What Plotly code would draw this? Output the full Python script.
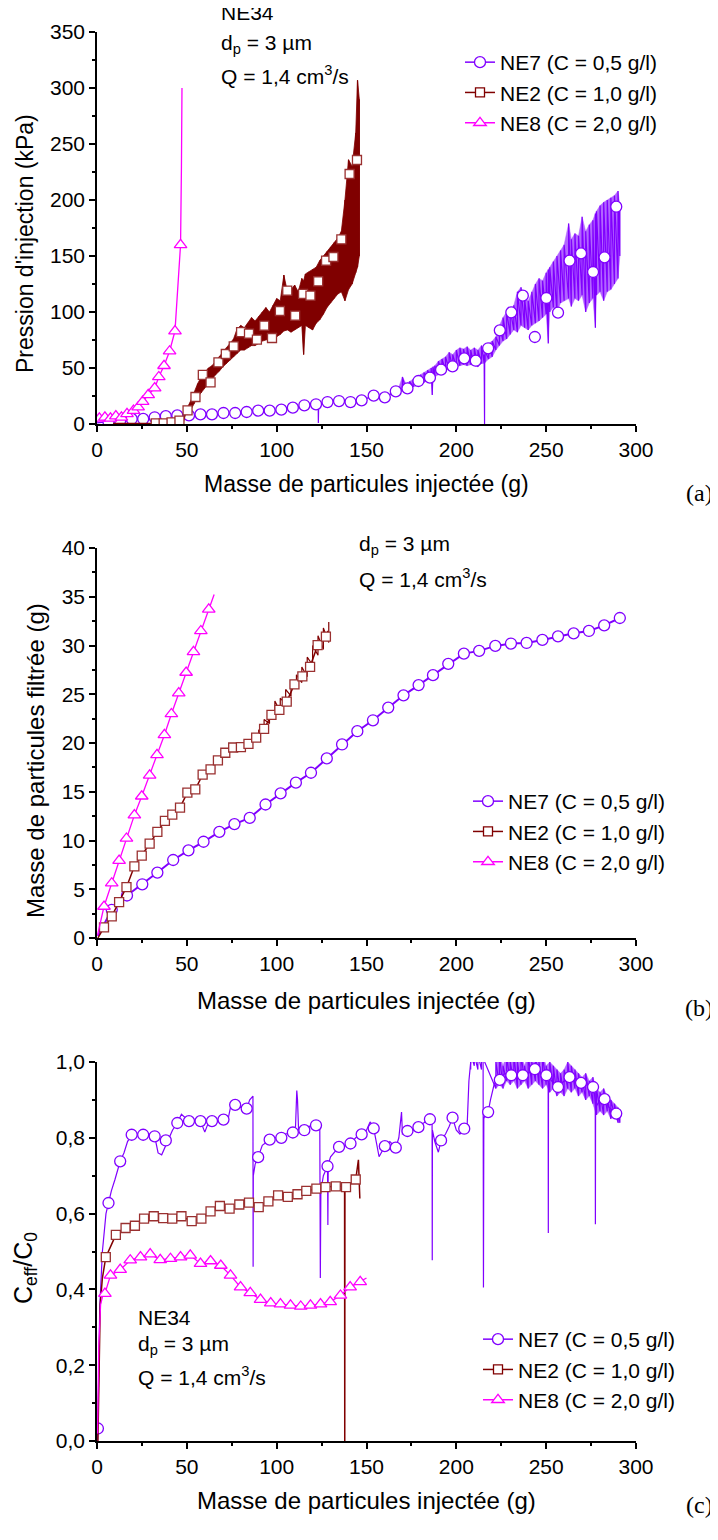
import plotly.graph_objects as go

# ---------------- colours ----------------
C7 = "#8000FF"
C2 = "#800000"
C2M = "#9A3030"
C8 = "#FF00FF"

# ================= Panel (a): pressure =================
a_ne7_x = [0, 6.4, 12.9, 19.3, 25.7, 32.1, 38.3, 44.7, 51.2, 57.6, 64.0, 70.4, 76.9, 83.3,
           89.7, 96.1, 102.6, 109.0, 115.4, 121.9, 123.1, 123.2, 123.4, 128.3, 134.7, 141.1,
           147.3, 154.0, 160.2, 166.3]
a_ne7_y = [1, 2, 3, 4.5, 4.5, 6, 7, 7.7, 7.7, 8.6, 8.6, 9.8, 9.8, 10.7,
           11.9, 11.9, 12.8, 14.6, 16.7, 17.6, 18.5, 0.8, 18.5, 19.6, 20.5, 19.6,
           21.1, 25.3, 23.8, 29.2]
a_ne7_bx = [166, 168, 170, 172, 174, 176, 178, 180, 182, 184, 186, 186.6, 187, 188, 190, 192, 194,
            196, 198, 200, 202, 204, 206, 208, 210, 212, 214, 215.5, 215.7, 216, 218, 220, 222,
            224, 226, 228, 230, 232, 234, 236, 238, 240, 242, 244, 246, 248, 250, 251.2, 252,
            254, 256, 258, 260, 262.5, 264, 266, 268, 270, 272, 274, 276, 277.4, 278, 280,
            282, 284, 286, 288, 290, 291]
a_ne7_lo = [26, 28, 30, 30, 31, 33, 34, 36, 37, 39, 40, 26, 41, 42, 44, 46, 48,
            49, 50, 51, 52, 53, 52, 53, 52, 51, 54, 54, 0, 55, 58, 60, 66,
            70, 74, 76, 80, 84, 82, 88, 86, 84, 88, 90, 92, 95, 98, 72, 100,
            104, 100, 108, 110, 112, 105, 112, 110, 115, 100, 108, 112, 86, 115, 118,
            110, 118, 120, 125, 130, 150]
a_ne7_hi = [30, 33, 42, 36, 38, 40, 42, 44, 46, 48, 50, 50, 51, 52, 56, 58, 60,
            64, 62, 66, 68, 67, 69, 66, 68, 66, 70, 62, 62, 65, 72, 74, 78,
            88, 95, 100, 102, 106, 118, 122, 112, 110, 118, 125, 130, 128, 135, 138, 140,
            145, 150, 155, 160, 179, 165, 170, 168, 185, 172, 178, 182, 188, 190, 195,
            198, 200, 202, 204, 208, 195]
a_ne7_mx = [6.4, 12.9, 19.3, 25.7, 32.1, 38.3, 44.7, 51.2, 57.6, 64.0, 70.4, 76.9, 83.3, 89.7,
            96.1, 102.6, 109.0, 115.4, 121.9, 128.3, 134.7, 141.1, 147.3, 154.0, 160.2, 166.3,
            172.8, 178.9, 185.3, 191.5, 197.9, 204.4, 210.8, 217.7, 224.2, 230.6, 237.0, 243.7,
            250.1, 256.6, 263.0, 269.4, 276.1, 282.5, 289.0]
a_ne7_my = [2, 3, 4.5, 4.5, 6, 7, 7.7, 7.7, 8.6, 8.6, 9.8, 9.8, 10.7, 11.9,
            11.9, 12.8, 14.6, 16.7, 17.6, 19.6, 20.5, 19.6, 21.1, 25.3, 23.8, 29.2,
            31.8, 38.4, 41.4, 48.5, 51.5, 58.6, 56.5, 67.6, 83.6, 99.7, 114.6, 77.7,
            112.5, 99.4, 145.8, 152.4, 135.7, 148.8, 194.0]

a_ne2_x = [9, 38.8, 39, 48, 49, 50]
a_ne2_y = [0.5, 0.5, 2, 2, 8, 12]
a_ne2_bx = [50, 52, 54, 56, 58, 60, 62, 64, 66, 68, 70, 72, 74, 76, 78, 80, 82, 84, 86, 88,
            90, 92, 94, 96, 98, 100, 102, 104, 106, 108, 110, 112, 114, 115, 116, 118, 120,
            122, 124, 126, 128, 130, 132, 134, 136, 138, 140, 142, 144, 145, 146]
a_ne2_lo = [8, 12, 18, 24, 28, 33, 36, 40, 44, 47, 51, 54, 57, 60, 63, 66, 66, 68, 70, 70,
            72, 74, 75, 76, 77, 78, 80, 83, 84, 82, 84, 86, 88, 62, 88, 86, 84,
            90, 93, 98, 104, 108, 112, 116, 118, 110, 120, 125, 135, 140, 150]
a_ne2_hi = [14, 20, 28, 36, 42, 46, 50, 52, 56, 60, 64, 68, 72, 76, 85, 88, 86, 90, 95, 92,
            96, 100, 104, 100, 106, 112, 110, 133, 118, 120, 124, 118, 130, 128, 134, 136, 138,
            140, 146, 150, 154, 158, 162, 166, 172, 200, 236, 230, 260, 307, 290]
a_ne2_mx = [32.7, 37.1, 41.5, 45.9, 50.4, 54.8, 58.9, 63.2, 67.6, 71.7, 76.1, 80.2, 84.6, 89.0,
            93.1, 97.4, 101.8, 105.9, 110.3, 114.7, 118.8, 123.1, 127.5, 131.6, 136.0, 140.6, 144.7]
a_ne2_my = [0.5, 0.5, 1.5, 3, 12.2, 24.1, 43.8, 37.2, 55.1, 62.5, 69.3, 82.1, 80.7, 75.3,
            87.8, 76.8, 100.9, 119.0, 96.7, 116.1, 114.6, 127.4, 145.8, 149.1, 164.9, 223.2, 235.7]

a_ne8_x = [0, 1.3, 4.4, 7.5, 10.5, 13.6, 16.7, 20.3, 22.9, 25.4, 28.5, 32.1, 34.4, 37.3,
           40.4, 43.4, 46.5, 47.0, 47.3]
a_ne8_y = [2, 5, 6, 5, 7, 6, 9, 12, 15, 20, 26, 32, 42, 52, 65, 83, 160, 230, 300]

# ================= Panel (b): filtered mass =================
b_ne7_x = [0.5, 8.2, 16.7, 25.2, 33.6, 42.4, 50.9, 59.3, 68.1, 76.5, 85.0, 93.8, 102.2, 110.7,
           119.1, 127.9, 136.4, 144.9, 153.6, 162.1, 170.6, 179.0, 187.0, 195.5, 204.2, 212.7,
           221.7, 230.4, 239.1, 247.9, 256.6, 265.3, 273.8, 282.3, 291.0]
b_ne7_y = [0.2, 2.89, 4.36, 5.51, 6.71, 8.0, 8.99, 9.87, 10.89, 11.68, 12.32, 13.69, 14.84, 15.93,
           16.95, 18.42, 19.85, 21.21, 22.33, 23.63, 24.89, 25.94, 26.96, 28.12, 29.17, 29.45,
           29.96, 30.20, 30.26, 30.57, 30.94, 31.25, 31.49, 32.07, 32.82]
b_ne2_x = [0.5, 3.9, 8.2, 12.3, 16.4, 20.8, 24.9, 29.3, 33.6, 37.8, 41.9, 46.2, 50.3, 54.7,
           58.8, 63.2, 67.3, 71.4, 75.8, 80.1, 84.3, 88.6, 93.0, 97.1, 101.5, 105.6, 109.9,
           114.3, 118.6, 122.8, 127.4, 128.5]
b_ne2_y = [0.0, 1.09, 2.21, 3.68, 5.21, 7.35, 8.44, 9.67, 10.89, 12.02, 12.66, 13.38, 14.91, 15.25,
           16.75, 17.29, 18.21, 19.0, 19.54, 19.57, 19.91, 20.56, 21.45, 22.88, 23.39, 24.24, 26.01,
           26.83, 27.81, 30.03, 30.91, 31.5]
b_ne2_bx = [90, 93, 96, 99, 102, 105, 108, 111, 114, 117, 120, 123, 126, 129]
b_ne2_lo = [20.5, 21.2, 22.0, 22.9, 23.2, 24.0, 24.8, 25.6, 26.2, 26.8, 28.0, 29.0, 29.6, 30.3]
b_ne2_hi = [21.3, 22.4, 23.0, 24.3, 24.6, 25.5, 26.4, 27.0, 27.8, 28.8, 30.0, 31.0, 31.8, 32.4]
b_ne8_x = [0.3, 3.9, 8.2, 12.3, 16.4, 20.8, 24.9, 29.3, 33.4, 37.5, 41.4, 45.5, 49.6, 53.7,
           57.8, 62.2, 65.2]
b_ne8_y = [0.3, 3.23, 5.62, 7.93, 10.21, 12.60, 14.54, 16.68, 18.79, 20.83, 22.98, 25.12,
           27.23, 29.34, 31.49, 33.70, 35.23]

# ================= Panel (c): Ceff/C0 =================
c_ne7_x = [0.3, 0.5, 1.5, 3, 5, 6.4, 8, 10, 12.9, 15, 17, 19.3, 22, 25.7, 29, 32.1, 34, 36, 38.3,
           40, 42, 44.7, 47, 51.2, 54, 57.6, 60, 62, 64.0, 67, 70.4, 73, 74.5, 76.9, 80, 83.3,
           85, 86.8, 86.9, 87.0, 88, 89.7, 92, 96.1, 99, 102.6, 105, 109.0, 110.5, 111.2, 111.6,
           112.2, 113, 115.4, 118, 121.9, 124.0, 124.3, 124.6, 126, 128.3, 128.5, 128.7, 130,
           132, 134.7, 138, 141.1, 144, 147.3, 150, 152, 154.0, 155, 157, 160.2, 163, 166.3,
           168, 169.5, 170, 172.8, 176, 178.9, 182, 185.3, 186.5, 186.6, 186.7, 188, 190,
           191.5, 194, 196, 197.9, 200, 202, 204.4, 206, 207, 208, 210, 212, 214.9, 215.1,
           215.3, 216, 217.7, 219, 221, 222, 224.2, 227, 230.6, 234, 237, 240, 243.7, 247,
           250.1, 251.1, 251.2, 251.3, 253, 256.6, 260, 263.0, 266, 269.4, 273, 276.1, 277.3,
           277.4, 277.5, 280, 282.5, 285, 289.0, 291]
c_ne7_y = [0.0, 0.03, 0.35, 0.5, 0.6, 0.628, 0.66, 0.69, 0.738, 0.76, 0.79, 0.808, 0.81, 0.808,
           0.81, 0.804, 0.76, 0.755, 0.78, 0.80, 0.82, 0.839, 0.862, 0.844, 0.845, 0.844, 0.815,
           0.84, 0.844, 0.845, 0.848, 0.85, 0.885, 0.887, 0.88, 0.877, 0.9, 0.91, 0.46, 0.70,
           0.73, 0.749, 0.78, 0.795, 0.80, 0.80, 0.81, 0.814, 0.83, 0.925, 0.90, 0.82, 0.82,
           0.82, 0.83, 0.833, 0.83, 0.43, 0.66, 0.70, 0.725, 0.57, 0.73, 0.75, 0.76, 0.776,
           0.78, 0.785, 0.80, 0.809, 0.82, 0.842, 0.825, 0.80, 0.75, 0.778, 0.79, 0.774, 0.80,
           0.868, 0.81, 0.818, 0.82, 0.828, 0.84, 0.849, 0.84, 0.477, 0.82, 0.79, 0.762, 0.793,
           0.81, 0.83, 0.853, 0.82, 0.81, 0.824, 0.83, 0.95, 1.0, 1.02, 1.01, 1.0, 0.405, 0.85,
           0.86, 0.868, 0.90, 0.94, 0.95, 0.953, 0.97, 0.965, 0.96, 0.965, 0.97, 0.981, 0.97,
           0.965, 0.96, 0.549, 0.96, 0.95, 0.934, 0.95, 0.96, 0.95, 0.945, 0.94, 0.934, 0.93,
           0.572, 0.88, 0.90, 0.902, 0.88, 0.864, 0.86]
c_ne7_bx = [208, 210, 212, 214, 222, 224, 226, 228, 230, 232, 234, 236, 238, 240, 242, 244, 246,
            248, 250, 252, 254, 256, 258, 260, 262, 264, 266, 268, 270, 272, 274, 276, 278, 280,
            282, 284, 286, 288, 290, 291]
c_ne7_lo = [0.98, 0.99, 0.98, 0.98, 0.93, 0.94, 0.93, 0.95, 0.94, 0.95, 0.93, 0.94, 0.95, 0.93,
            0.94, 0.95, 0.94, 0.93, 0.94, 0.92, 0.93, 0.91, 0.92, 0.91, 0.93, 0.92, 0.93, 0.91,
            0.92, 0.90, 0.91, 0.89, 0.86, 0.87, 0.86, 0.87, 0.85, 0.86, 0.84, 0.84]
c_ne7_hi = [1.02, 1.02, 1.02, 1.02, 1.0, 1.02, 0.99, 1.02, 1.0, 1.02, 1.0, 1.02, 0.99, 1.02,
            1.0, 1.02, 1.0, 1.02, 0.99, 1.0, 0.99, 0.98, 0.97, 0.98, 1.0, 0.99, 0.98, 0.97,
            0.96, 0.97, 0.95, 0.96, 0.93, 0.92, 0.93, 0.91, 0.90, 0.89, 0.88, 0.87]
c_ne7_mx = [0.5, 6.4, 12.9, 19.3, 25.7, 32.1, 38.3, 44.7, 51.2, 57.6, 64.0, 70.4, 76.9, 83.3,
            89.7, 96.1, 102.6, 109.0, 115.4, 121.9, 128.3, 134.7, 141.1, 147.3, 154.0, 160.2,
            166.3, 172.8, 178.9, 185.3, 191.5, 197.9, 204.4, 217.7, 224.2, 230.6, 237.0, 243.7,
            250.1, 256.6, 263.0, 269.4, 276.1, 282.5, 289.0]
c_ne7_my = [0.033, 0.628, 0.738, 0.808, 0.808, 0.804, 0.793, 0.839, 0.844, 0.844, 0.844, 0.848,
            0.887, 0.877, 0.749, 0.795, 0.800, 0.814, 0.820, 0.833, 0.725, 0.776, 0.785, 0.809,
            0.825, 0.778, 0.774, 0.818, 0.828, 0.849, 0.793, 0.853, 0.824, 0.868, 0.953, 0.965,
            0.965, 0.981, 0.965, 0.934, 0.960, 0.945, 0.934, 0.902, 0.864]

c_ne2_x = [0.5, 1.2, 1.8, 3.0, 4.9, 10.5, 15.9, 21.1, 26.2, 31.6, 36.8, 41.9, 47.0, 52.7, 58.1,
           63.2, 68.4, 73.8, 79.2, 84.6, 90.0, 95.4, 100.8, 106.2, 111.6, 116.5, 122.1, 127.2,
           132.9, 137.8, 137.9, 138.0, 138.6, 141.0, 144.0, 145.5, 146.3]
c_ne2_y = [0.0, 0.2, 0.36, 0.43, 0.485, 0.544, 0.562, 0.568, 0.587, 0.593, 0.588, 0.587, 0.593,
           0.580, 0.587, 0.606, 0.620, 0.613, 0.624, 0.629, 0.617, 0.632, 0.648, 0.644, 0.651,
           0.660, 0.666, 0.670, 0.672, 0.672, 0.0, 0.672, 0.670, 0.68, 0.690, 0.742, 0.64]
c_ne2_mx = c_ne2_x[4:29] + [138.6, 144.0]
c_ne2_my = c_ne2_y[4:29] + [0.670, 0.690]

c_ne8_x = [0.3, 1.0, 2.0, 3.0, 4.4, 7.5, 12.9, 18.5, 24.2, 29.6, 35.2, 40.9, 46.5, 51.9, 57.6,
           63.2, 68.9, 74.3, 79.9, 85.3, 91.0, 96.7, 102.1, 107.7, 113.4, 118.8, 124.4, 129.8,
           135.5, 140.9, 146.5, 150.0]
c_ne8_y = [0.02, 0.25, 0.36, 0.38, 0.389, 0.437, 0.452, 0.477, 0.485, 0.493, 0.478, 0.481,
           0.485, 0.490, 0.468, 0.475, 0.463, 0.437, 0.406, 0.391, 0.373, 0.364, 0.361, 0.358,
           0.355, 0.358, 0.361, 0.367, 0.384, 0.406, 0.420, 0.43]

legend_names = ["NE7 (C = 0,5 g/l)", "NE2 (C = 1,0 g/l)", "NE8 (C = 2,0 g/l)"]

# ---------------- figure geometry ----------------
# The page body has an 8 px margin, so the figure is 8 px smaller and every
# reference pixel position is shifted by OFF.
OFF = 8
W, H = 718 - OFF, 1540 - OFF
L, R = 97 - OFF, 82
PW = W - L - R


def px(xp):
    return (xp - OFF - L) / PW


def py(yp):
    return (H - (yp - OFF)) / H


fig = go.Figure()


def band(x, lo, hi, color, xa, ya, width=0.8, opacity=1.0):
    fig.add_trace(go.Scatter(x=x + x[::-1], y=hi + lo[::-1], fill="toself", fillcolor=color,
                             opacity=opacity, mode="lines", line=dict(color=color, width=width),
                             showlegend=False, hoverinfo="skip", xaxis=xa, yaxis=ya))


def zigzag(x, lo, hi, color, xa, ya, width=1.0):
    zx, zy = [], []
    for xi, li, hi_ in zip(x, lo, hi):
        zx += [xi, xi]
        zy += [li, hi_]
    fig.add_trace(go.Scatter(x=zx, y=zy, mode="lines", line=dict(color=color, width=width),
                             showlegend=False, hoverinfo="skip", xaxis=xa, yaxis=ya))


def line(x, y, color, xa, ya, width=1.2):
    fig.add_trace(go.Scatter(x=x, y=y, mode="lines", line=dict(color=color, width=width),
                             showlegend=False, hoverinfo="skip", xaxis=xa, yaxis=ya))


def marks(x, y, symbol, color, size, xa, ya):
    fig.add_trace(go.Scatter(x=x, y=y, mode="markers",
                             marker=dict(symbol=symbol, size=size, color="white",
                                         line=dict(color=color, width=1.3)),
                             showlegend=False, hoverinfo="skip", xaxis=xa, yaxis=ya,
                             cliponaxis=True))


def legend_items(leg, xa, ya):
    specs = [(C7, "circle", 11), (C2, "square", 9), (C8, "triangle-up", 11)]
    for name, (col, sym, sz) in zip(legend_names, specs):
        fig.add_trace(go.Scatter(x=[None], y=[None], mode="lines+markers", name=name,
                                 line=dict(color=col, width=1.5),
                                 marker=dict(symbol=sym, size=sz, color="white",
                                             line=dict(color=col, width=1.3)),
                                 legend=leg, xaxis=xa, yaxis=ya))


# (a)
line(a_ne7_x, a_ne7_y, C7, "x", "y", 1.2)
band(a_ne7_bx, a_ne7_lo, a_ne7_hi, C7, "x", "y", 0.5, 0.6)
zigzag(a_ne7_bx, a_ne7_lo, a_ne7_hi, C7, "x", "y", 1.2)
marks(a_ne7_mx, a_ne7_my, "circle", C7, 11, "x", "y")
line(a_ne2_x, a_ne2_y, C2, "x", "y", 1.5)
band(a_ne2_bx, a_ne2_lo, a_ne2_hi, C2, "x", "y", 0.8)
zigzag(a_ne2_bx, a_ne2_lo, a_ne2_hi, C2, "x", "y", 1.2)
marks(a_ne2_mx, a_ne2_my, "square", C2M, 9, "x", "y")
line(a_ne8_x, a_ne8_y, C8, "x", "y", 1.3)
marks(a_ne8_x[1:17], a_ne8_y[1:17], "triangle-up", C8, 11, "x", "y")
legend_items("legend", "x", "y")

# (b)
line(b_ne7_x, b_ne7_y, C7, "x2", "y2", 2)
marks(b_ne7_x[1:], b_ne7_y[1:], "circle", C7, 11, "x2", "y2")
line(b_ne2_x, b_ne2_y, C2, "x2", "y2", 1.5)
zigzag(b_ne2_bx, b_ne2_lo, b_ne2_hi, C2, "x2", "y2", 1.2)
marks(b_ne2_x[1:-1], b_ne2_y[1:-1], "square", C2M, 9, "x2", "y2")
line(b_ne8_x, b_ne8_y, C8, "x2", "y2", 1.3)
marks(b_ne8_x[1:-1], b_ne8_y[1:-1], "triangle-up", C8, 11, "x2", "y2")
legend_items("legend2", "x2", "y2")

# (c)
line(c_ne7_x, c_ne7_y, C7, "x3", "y3", 1.2)
band(c_ne7_bx[4:], c_ne7_lo[4:], c_ne7_hi[4:], C7, "x3", "y3", 0.5, 0.6)
zigzag(c_ne7_bx, c_ne7_lo, c_ne7_hi, C7, "x3", "y3", 1.2)
marks(c_ne7_mx, c_ne7_my, "circle", C7, 11, "x3", "y3")
line(c_ne2_x, c_ne2_y, C2, "x3", "y3", 1.5)
marks(c_ne2_mx, c_ne2_my, "square", C2M, 9, "x3", "y3")
line(c_ne8_x, c_ne8_y, C8, "x3", "y3", 1.3)
marks(c_ne8_x[4:-1], c_ne8_y[4:-1], "triangle-up", C8, 11, "x3", "y3")
legend_items("legend3", "x3", "y3")

FONT = "Liberation Sans, Arial, sans-serif"
TICKFONT = dict(family=FONT, size=21, color="black")


def xax(anchor):
    return dict(range=[0, 300], domain=[0, 1], anchor=anchor, showline=True,
                linecolor="black", linewidth=1.5, ticks="outside", ticklen=6, tickwidth=1.5,
                tickcolor="black", dtick=50, tick0=0, showgrid=False, zeroline=False,
                automargin=False,
                minor=dict(ticks="outside", ticklen=3, tickwidth=1.5, dtick=25,
                           tickcolor="black"),
                tickfont=TICKFONT)


def yax(anchor, rng, dtick, mdtick, dom, fmt=None):
    d = dict(range=rng, domain=dom, anchor=anchor, showline=True, linecolor="black",
             linewidth=1.5, ticks="outside", ticklen=6, tickwidth=1.5, tickcolor="black",
             dtick=dtick, tick0=0, showgrid=False, zeroline=False, automargin=False,
             minor=dict(ticks="outside", ticklen=3, tickwidth=1.5, dtick=mdtick,
                        tickcolor="black"),
             tickfont=TICKFONT)
    if fmt:
        d["tickformat"] = fmt
    return d


dom_a = [py(424), py(32)]
dom_b = [py(938), py(548)]
dom_c = [py(1441), py(1062)]

annotations = []


def text(s, xpx, ypx, size=21, anchor="left", family=FONT, angle=0):
    annotations.append(dict(text=s, x=px(xpx), y=py(ypx), xref="paper", yref="paper",
                            xanchor=anchor, yanchor="middle", showarrow=False,
                            textangle=angle, font=dict(family=family, size=size,
                                                       color="black")))


text("NE34", 219, 12)
text("d<sub>p</sub> = 3 µm", 219, 44)
text("Q = 1,4 cm<sup>3</sup>/s", 219, 75)
text("d<sub>p</sub> = 3 µm", 357, 545)
text("Q = 1,4 cm<sup>3</sup>/s", 357, 578)
text("NE34", 136, 1317)
text("d<sub>p</sub> = 3 µm", 136, 1345)
text("Q = 1,4 cm<sup>3</sup>/s", 136, 1376)
text("Masse de particules injectée (g)", 366, 484, 23, "center")
text("Masse de particules injectée (g)", 366, 1000, 24, "center")
text("Masse de particules injectée (g)", 366, 1500, 24, "center")
text("Pression d'injection (kPa)", 25, 244, 23, "center", angle=-90)
text("Masse de particules filtrée (g)", 35, 761, 24, "center", angle=-90)
text("C<sub>eff</sub>/C<sub>0</sub>", 25, 1268, 25, "center", angle=-90)
SERIF = "Liberation Serif, Times New Roman, serif"
text("(a)", 699, 493, 24, "center", SERIF)
text("(b)", 699, 1008, 24, "center", SERIF)
text("(c)", 699, 1505, 24, "center", SERIF)


def leg(xpx, ypx, size):
    return dict(x=px(xpx), y=py(ypx), xanchor="left", yanchor="top",
                bgcolor="rgba(0,0,0,0)", borderwidth=0, tracegroupgap=0,
                font=dict(family=FONT, size=size, color="black"))


fig.update_layout(
    width=W, height=H, autosize=False,
    margin=dict(l=L, r=R, t=0, b=0, pad=0, autoexpand=False),
    paper_bgcolor="white", plot_bgcolor="white",
    separators=", ",
    showlegend=True,
    xaxis=xax("y"), yaxis=yax("x", [0, 350], 50, 25, dom_a),
    xaxis2=xax("y2"), yaxis2=yax("x2", [0, 40], 5, 2.5, dom_b),
    xaxis3=xax("y3"), yaxis3=yax("x3", [0, 1.0], 0.2, 0.1, dom_c, ".1f"),
    legend=leg(460, 42, 21),
    legend2=leg(468, 781, 21),
    legend3=leg(478, 1319, 21),
    annotations=annotations,
)

fig.write_html("out.html")
